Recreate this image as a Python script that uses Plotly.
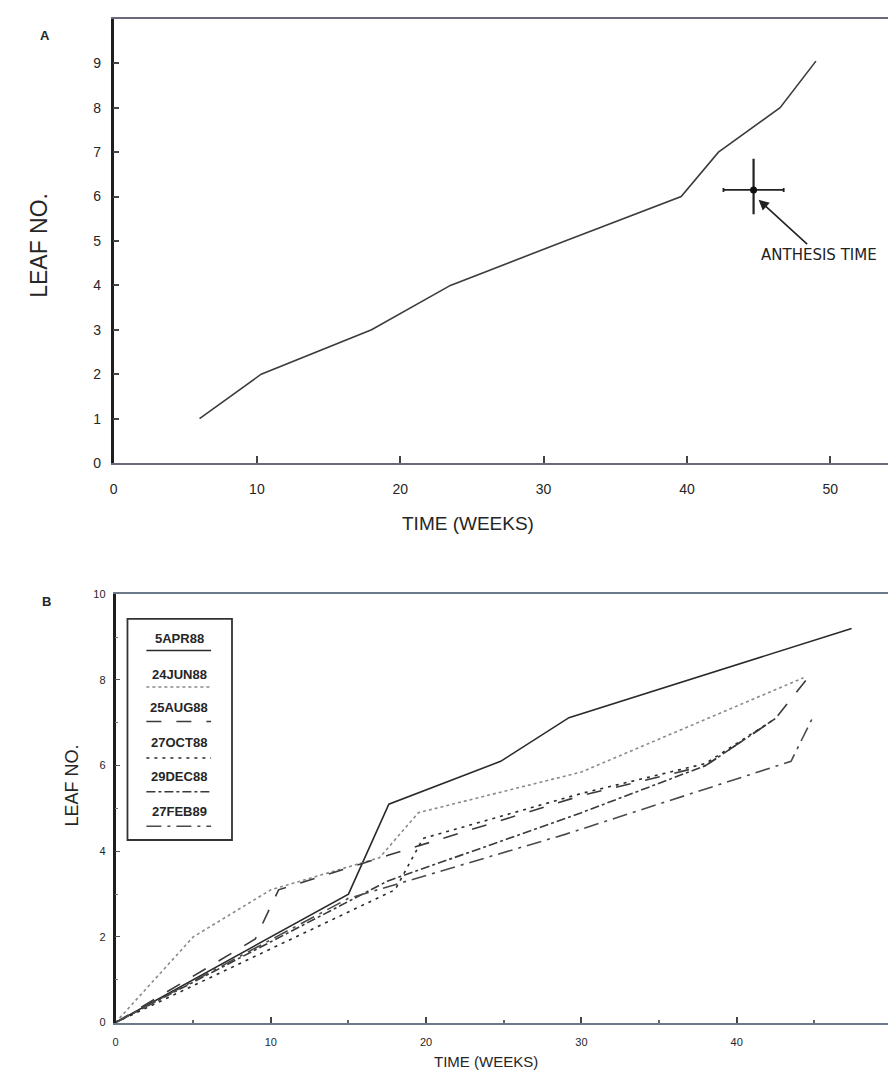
import plotly.graph_objects as go

# ---------------- Panel A data ----------------
a_weeks = [6, 10.3, 18, 23.5, 31.5, 39.6, 42.2, 46.5, 49]
a_leaves = [1, 2, 3, 4, 5, 6, 7, 8, 9.05]
anthesis_week = [44.65]
anthesis_leaf = [6.15]
anthesis_err_week = [2.1]
anthesis_err_leaf_up = [0.7]
anthesis_err_leaf_down = [0.55]

# ---------------- Panel B data ----------------
b_names = ["5APR88", "24JUN88", "25AUG88", "27OCT88", "29DEC88", "27FEB89"]
b_weeks_5apr88 = [0, 15, 17.6, 24.8, 29.2, 47.4]
b_leaves_5apr88 = [0, 3, 5.1, 6.1, 7.12, 9.2]
b_weeks_24jun88 = [0, 5, 10, 17, 19.5, 30, 44.3]
b_leaves_24jun88 = [0, 2, 3.1, 3.85, 4.9, 5.85, 8.05]
b_weeks_25aug88 = [0, 9, 10.5, 17.5, 30, 38, 42.5, 44.7]
b_leaves_25aug88 = [0, 1.95, 3.1, 3.9, 5.3, 6.0, 7.1, 8.1]
b_weeks_27oct88 = [0, 18, 19.8, 30, 38, 42.5]
b_leaves_27oct88 = [0, 3.1, 4.3, 5.35, 6.05, 7.1]
b_weeks_29dec88 = [0, 17.5, 30, 38, 42.5]
b_leaves_29dec88 = [0, 3.3, 4.9, 6.0, 7.1]
b_weeks_27feb89 = [0, 15, 29, 43.5, 45]
b_leaves_27feb89 = [0, 2.9, 4.4, 6.1, 7.2]

b_series = [
    (b_weeks_5apr88, b_leaves_5apr88),
    (b_weeks_24jun88, b_leaves_24jun88),
    (b_weeks_25aug88, b_leaves_25aug88),
    (b_weeks_27oct88, b_leaves_27oct88),
    (b_weeks_29dec88, b_leaves_29dec88),
    (b_weeks_27feb89, b_leaves_27feb89),
]
b_dashes = ["solid", "dot", "longdash", "3px,5px", "dashdot", "longdashdot"]
b_colors = ["#2a2a2a", "#8a8a8a", "#3a3a3a", "#2a2a2a", "#3a3a3a", "#4a4a4a"]

a_xticks = [0, 10, 20, 30, 40, 50]
a_yticks = [0, 1, 2, 3, 4, 5, 6, 7, 8, 9]
b_xticks = [0, 10, 20, 30, 40, 50]
b_yticks = [0, 2, 4, 6, 8, 10]

# page has an 8px body margin; figure sized so the page is exactly 896x1082
OFF = 8
W, H = 896 - 2 * OFF, 1082 - 2 * OFF
FONT = "Liberation Sans, Arial, Helvetica, sans-serif"
INK = "#262626"


def pxx(p):
    return (p - OFF) / W


def pyy(p):
    return 1 - (p - OFF) / H


fig = go.Figure()

# Panel A
fig.add_trace(go.Scatter(x=a_weeks, y=a_leaves, mode="lines",
                         line=dict(color="#3c3c3c", width=1.6),
                         xaxis="x", yaxis="y", showlegend=False))
fig.add_trace(go.Scatter(x=anthesis_week, y=anthesis_leaf, mode="markers",
                         marker=dict(color="#111", size=7),
                         error_x=dict(type="data", array=anthesis_err_week, color="#222", thickness=1.8, width=2),
                         error_y=dict(type="data", array=anthesis_err_leaf_up, arrayminus=anthesis_err_leaf_down,
                                      color="#222", thickness=2.2, width=0),
                         xaxis="x", yaxis="y", showlegend=False))

# Panel B
for (wx, ly), name, dash, col in zip(b_series, b_names, b_dashes, b_colors):
    fig.add_trace(go.Scatter(x=wx, y=ly, mode="lines", name=name,
                             line=dict(color=col, width=1.6, dash=dash),
                             xaxis="x2", yaxis="y2", showlegend=False))

# geometry (page pixels)
a_left, a_bottom, a_top = 110, 463, 13
a_xscale = 14.4
b_left, b_bottom, b_top = 112, 1030, 596
b_xscale = 15.6
right_edge = OFF + W

axis_common = dict(showgrid=False, zeroline=False, ticks="inside")
fA = dict(family=FONT, size=14, color=INK)
fB = dict(family=FONT, size=11, color=INK)

fig.update_layout(
    width=W, height=H, margin=dict(l=0, r=0, t=0, b=0),
    paper_bgcolor="white", plot_bgcolor="white",
    xaxis=dict(domain=[pxx(a_left), 1], range=[0, (right_edge - a_left) / a_xscale],
               tickvals=a_xticks, showline=True, linecolor="#6a6a7a", linewidth=2, mirror=True,
               ticklen=7, tickwidth=2, tickcolor="#444", anchor="y", tickfont=fA,
               ticklabelstandoff=12, **axis_common),
    yaxis=dict(domain=[pyy(a_bottom), pyy(a_top)], range=[0, 10], tickvals=a_yticks,
               showline=True, linecolor="#1e1e1e", linewidth=2.5,
               ticklen=6, tickwidth=1.5, tickcolor="#444", anchor="x", tickfont=fA,
               ticklabelstandoff=7, **axis_common),
    xaxis2=dict(domain=[pxx(b_left), 1], range=[0, (right_edge - b_left) / b_xscale],
                tickvals=b_xticks, showline=True, linecolor="#6a7a8a", linewidth=2, mirror=True,
                ticklen=6, tickwidth=1.5, tickcolor="#444", anchor="y2",
                minor=dict(dtick=5, ticks="inside", ticklen=3, tickcolor="#666"),
                tickfont=fB, ticklabelstandoff=8, **axis_common),
    yaxis2=dict(domain=[pyy(b_bottom), pyy(b_top)], range=[0, 10], tickvals=b_yticks,
                showline=True, linecolor="#1e1e1e", linewidth=2.5,
                ticklen=5, tickwidth=1.2, tickcolor="#555", anchor="x2",
                minor=dict(dtick=1, ticks="inside", ticklen=3, tickcolor="#777"),
                tickfont=fB, ticklabelstandoff=5, **axis_common),
)


def label(text, x, y, size, angle=0, bold=False):
    return dict(text=("<b>%s</b>" % text) if bold else text, x=pxx(x), y=pyy(y),
                xref="paper", yref="paper", xanchor="center", yanchor="middle",
                textangle=angle, showarrow=False,
                font=dict(family=FONT, size=size, color=INK))


ann = [
    label("A", 41, 30, 13, bold=True),
    label("B", 43, 603, 13, bold=True),
    label("LEAF NO.", 35, 242, 23, angle=-90),
    label("TIME (WEEKS)", 466, 524, 19),
    label("LEAF NO.", 68, 790, 18, angle=-90),
    label("TIME (WEEKS)", 484, 1069, 15),
]
# anthesis label with arrow
ann.append(dict(text="ANTHESIS TIME", x=anthesis_week[0] + 0.35, y=anthesis_leaf[0] - 0.22,
                xref="x", yref="y", ax=60, ay=55, showarrow=True, arrowhead=2, arrowsize=1.3,
                arrowwidth=1.6, arrowcolor="#222", xanchor="center", yanchor="middle",
                font=dict(family="DejaVu Sans, Verdana, sans-serif", size=15, color="#222")))

# manual legend (text above line sample) in panel B, positioned in the axes domain
shapes = []
bw = right_edge - b_left
bh = b_bottom - b_top


def xd(p):
    return (p - b_left) / bw


def yd(p):
    return (b_bottom - p) / bh


shapes.append(dict(type="rect", xref="x2 domain", yref="y2 domain",
                   x0=xd(124), x1=xd(229), y0=yd(845), y1=yd(621),
                   line=dict(color="#333", width=1.8), fillcolor="white", layer="above"))
text_y = [641, 677, 711, 746, 781, 816]
line_y = [653, 690, 725, 762, 796, 831]
for name, dash, col, ty, ly in zip(b_names, b_dashes, b_colors, text_y, line_y):
    ann.append(dict(text="<b>" + name + "</b>", x=xd(176), y=yd(ty),
                    xref="x2 domain", yref="y2 domain", xanchor="center", yanchor="middle",
                    showarrow=False, font=dict(family=FONT, size=13, color=INK)))
    shapes.append(dict(type="line", xref="x2 domain", yref="y2 domain",
                       x0=xd(143), x1=xd(208), y0=yd(ly), y1=yd(ly), layer="above",
                       line=dict(color=col, width=1.5, dash=dash)))

fig.update_layout(annotations=ann, shapes=shapes)
fig.write_html("out.html")
